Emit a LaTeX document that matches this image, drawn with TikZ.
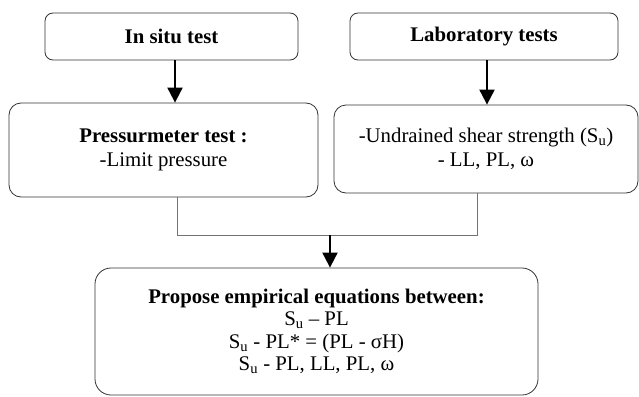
\documentclass[tikz,border=0pt]{standalone}
\usepackage{fontspec}
\setmainfont{Liberation Serif}
\usetikzlibrary{arrows.meta}
\tikzset{
  box/.style={draw=black!80, line width=0.8pt, rounded corners=#1, align=center,
    inner sep=0pt, font=\fontsize{20.8}{22.5}\selectfont},
  box/.default=8pt,
  arr/.style={-{Triangle[length=15pt,width=15pt]}, line width=2pt},
  link/.style={draw=black!55, line width=0.9pt},
}
\begin{document}
\begin{tikzpicture}[x=1pt,y=-1pt]
    \useasboundingbox (0,0) rectangle (639,396);
    % sources of data
    \node[box, minimum width=253pt, minimum height=47pt] (insitu) at (171.5,36.5)
      {\textbf{In situ test}};
    \node[box, minimum width=268pt, minimum height=47pt] (lab) at (484,36.5)
      {\textbf{Laboratory tests}};
    % measured parameters
    \node[box=12pt, minimum width=309pt, minimum height=94pt] (pmt) at (163.5,150)
      {\textbf{Pressurmeter test :}\\[2pt]-Limit pressure};
    \node[box=12pt, minimum width=304pt, minimum height=88pt] (labres) at (486,149)
      {-Undrained shear strength (S\textsubscript{u})\\[2pt]- LL, PL, ω};
    % correlations
    \node[box=16pt, minimum width=443pt, minimum height=127pt] (eqs) at (316.5,331.5)
      {\textbf{Propose empirical equations between:}\\
       S\textsubscript{u} – PL\\
       S\textsubscript{u} - PL* = (PL - σH)\\
       S\textsubscript{u} - PL, LL, PL, ω};
    \draw[arr] ([xshift=3.5pt]insitu.south) -- ([xshift=3.5pt]insitu.south |- pmt.north);
    \draw[arr] ([xshift=3pt]lab.south) -- ([xshift=3pt]lab.south |- labres.north);
    \coordinate (join) at (330,235);
    \coordinate (pmtout) at ([xshift=13.5pt]pmt.south);
    \coordinate (labout) at ([xshift=-9pt]labres.south);
    \draw[link] (pmtout) -- (pmtout |- join) -- (labout |- join) -- (labout);
    \draw[arr] (join) -- (join |- eqs.north);
\end{tikzpicture}
\end{document}
